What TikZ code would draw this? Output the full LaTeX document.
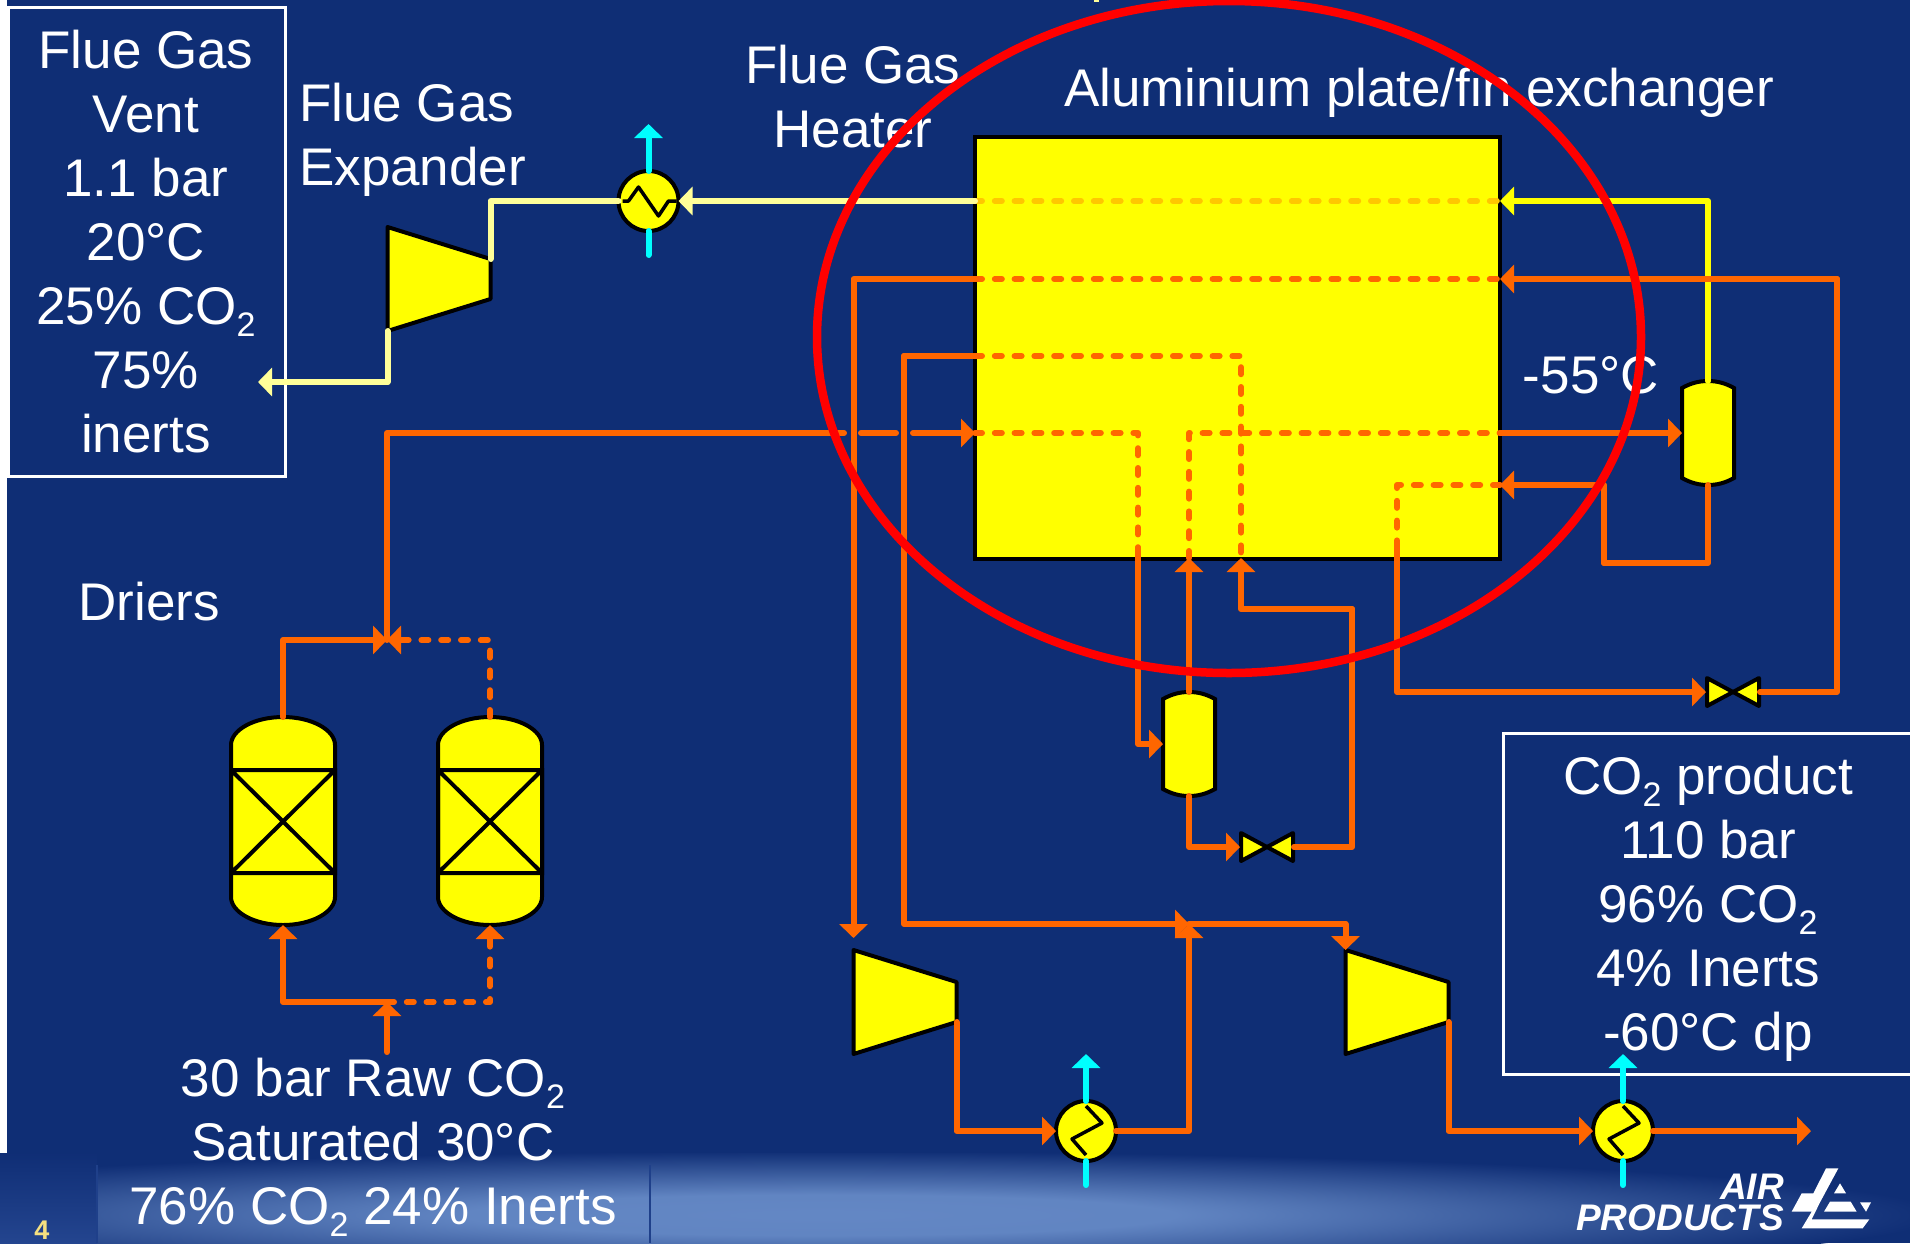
\documentclass[tikz,border=0pt]{standalone}
\usepackage{fontspec}
\setmainfont{Liberation Sans}
\usetikzlibrary{arrows.meta,calc}
\definecolor{slidenavy}{rgb}{0.06, 0.18, 0.46}
\definecolor{footdark}{rgb}{0.14, 0.27, 0.56}
\definecolor{footrule}{rgb}{0.12, 0.25, 0.54}
\definecolor{kityellow}{rgb}{1, 1, 0}
\definecolor{pipeorange}{rgb}{1, 0.40, 0}
\definecolor{ventpale}{rgb}{1, 1, 0.60}
\definecolor{ventgold}{rgb}{1, 0.78, 0}
\definecolor{coldcyan}{rgb}{0, 1, 1}
\definecolor{numberpale}{rgb}{0.96, 0.88, 0.50}
\pgfdeclareradialshading{footglow}{\pgfpointorigin}{rgb(0bp)=(0.39,0.53,0.77); rgb(8bp)=(0.38,0.52,0.76); rgb(25bp)=(0.06,0.18,0.46); rgb(50bp)=(0.06,0.18,0.46)}
\tikzset{
  kit/.style={
    draw=black,
    line width=4pt,
    fill=kityellow
  },
  tag/.style={
    inner sep=0pt,
    outer sep=0pt
  },
  lbl/.style={
    text=white,
    align=center,
    inner sep=0pt,
    font=\fontsize{53}{64}\selectfont
  },
  infobox/.style={
    draw=white,
    line width=3pt,
    inner sep=0pt
  },
  pipe/.style={
    draw=pipeorange,
    line width=6pt,
    line cap=round,
    line join=round
  },
  pipedash/.style={
    pipe,
    dash pattern=on 7pt off 12.8pt
  },
  flow/.style={
    -{Triangle[length=14pt,width=28pt]}
  },
  vent/.style={
    pipe,
    draw=ventpale
  },
  cold/.style={
    pipe,
    draw=coldcyan
  },
  coil/.style={
    draw=black,
    line width=3.5pt,
    line join=round
  },
  logotxt/.style={
    text=white,
    inner sep=0pt,
    font=\fontsize{37}{37}\selectfont\bfseries\itshape
  }
}
\newcommand{\cotwo}{CO\raisebox{-12pt}{\fontsize{34}{34}\selectfont 2}}
\newcommand{\drier}[3]{
  \node[tag, minimum width=104pt, minimum height=208pt] (#1) at (#2,#3) {};
  \begin{scope}[shift={(#1.center)}]
    \draw[kit] (-52,-76) .. controls (-52,-91) and (-29,-104) .. (0,-104) .. controls (29,-104) and (52,-91) .. (52,-76) -- (52,76) .. controls (52,91) and (29,104) .. (0,104) .. controls (-29,104) and (-52,91) .. (-52,76) -- cycle;
    \draw[kit, fill=none] (-52,-51) rectangle (52,52) (-52,-51) -- (52,52) (52,-51) -- (-52,52);
  \end{scope}
}
\newcommand{\drum}[3]{
  \node[tag, minimum width=52pt, minimum height=104pt] (#1) at (#2,#3) {};
  \begin{scope}[shift={(#1.center)}]
    \draw[kit] (-26,-45) .. controls (-17,-50) and (-9,-52) .. (0,-52) .. controls (9,-52) and (17,-50) .. (26,-45) -- (26,45) .. controls (17,50) and (9,52) .. (0,52) .. controls (-9,52) and (-17,50) .. (-26,45) -- cycle;
  \end{scope}
}
\newcommand{\valve}[3]{
  \node[tag, minimum width=54pt, minimum height=28pt] (#1) at (#2,#3) {};
  \begin{scope}[shift={(#1.center)}]
    \draw[kit, line join=round] (-26,-14) -- (0,0) -- (-26,14) -- cycle (26,-14) -- (0,0) -- (26,14) -- cycle;
  \end{scope}
}
\newcommand{\wheel}[3]{
  \coordinate (#1lt) at ($(#2,#3)+(-51,-52)$);
  \coordinate (#1lb) at ($(#2,#3)+(-51,52)$);
  \coordinate (#1rt) at ($(#2,#3)+(52,-20)$);
  \coordinate (#1rb) at ($(#2,#3)+(52,20)$);
  \draw[kit, line join=round] (#1lt) -- (#1rt) -- (#1rb) -- (#1lb) -- cycle;
}

\begin{document}
\begin{tikzpicture}[x=1pt,y=-1pt]
\useasboundingbox (0,0) rectangle (1910,1243);
\fill[white] (0,0) rectangle (1910,1243);
\fill[slidenavy] (7,0) rectangle (1910,1243);
\begin{scope}
\clip (0,1153) rectangle (1910,1243);
\fill[slidenavy] (0,1153) rectangle (1910,1243);
\shade[shading=footglow] (820,1215) ellipse (1120 and 64);
\shade[top color=slidenavy, bottom color=footdark] (0,1153) rectangle (97,1243);
\end{scope}
\draw[footrule, line width=1.5pt] (97,1165) -- (97,1243) (650,1165) -- (650,1243);
\fill[ventpale] (1094,0) rectangle (1099,2);

\node[infobox, minimum width=277pt, minimum height=469pt] (ventbox) at (146.5,241.5) {};
\node[lbl] (venttxt) at (146,242) {Flue Gas\\Vent\\1.1 bar\\20°C\\25\% \cotwo\\75\%\\inerts};
\node[infobox, minimum width=410pt, minimum height=341pt] (productbox) at (1708,903.5) {};
\node[lbl] (producttxt) at (1708,909) {\cotwo{} product\\110 bar\\96\% \cotwo\\4\% Inerts\\-60°C dp};
\node[lbl, align=left, anchor=west] (expanderlbl) at (299,140) {Flue Gas\\Expander};
\node[lbl] (heaterlbl) at (853,97) {Flue Gas\\Heater};
\node[lbl] (exchangerlbl) at (1419,93) {Aluminium plate/fin exchanger};
\node[lbl] (coldlbl) at (1591,375) {-55°C};
\node[lbl] (drierlbl) at (149,602) {Driers};
\node[lbl] (rawlbl) at (373,1147) {30 bar Raw \cotwo\\Saturated 30°C\\76\% \cotwo{} 24\% Inerts};
\node[text=numberpale, inner sep=0pt, font=\fontsize{27}{27}\selectfont\bfseries] (pagenum) at (42,1230) {4};
\node[logotxt, anchor=base east] (logoair) at (1784,1199) {AIR};
\node[logotxt, anchor=base east] (logoproducts) at (1784,1230) {PRODUCTS};
\fill[white, shift={(1780,1160)}, scale=0.3333] (138,25) -- (175,25) -- (120,127) -- (95,178) -- (268,178) -- (248,205) -- (65,205) -- (95,155) -- (35,155) -- (65,100) -- (100,100) -- cycle (180,70) -- (198,100) -- (162,100) -- cycle (150,125) -- (212,125) -- (230,155) -- (132,155) -- cycle (240,127) -- (273,127) -- (258,155) -- cycle;

\node[kit, tag, minimum width=525pt, minimum height=422pt] (hx) at (1237.5,348) {};
\foreach \row/\y in {a/201,b/279,c/356,d/433,e/485} {
  \coordinate (west\row) at (975,\y);
  \coordinate (east\row) at (1500,\y);
}
\coordinate (tipQ) at (1189,558);
\coordinate (tipR) at (1241,558);
\coordinate (portP) at (1138,548);
\coordinate (portS) at (1397,548);
\draw[pipedash, draw=ventgold] (westa) -- (easta);
\draw[pipedash] (westb) -- (eastb);
\draw[pipedash] (westc) -| (tipR);
\draw[pipedash] (westd) -| (portP);
\draw[pipedash] (tipQ) |- (eastd);
\draw[pipedash] (easte) -| (portS);

\drier{drierA}{283}{821}
\drier{drierB}{490}{821}
\drum{drumA}{1189}{744}
\drum{drumB}{1708}{433}
\valve{valveA}{1267}{847}
\valve{valveB}{1733}{692}
\wheel{expander}{438.5}{279}
\wheel{compA}{904.5}{1002}
\wheel{compB}{1396.5}{1002}
\node[kit, tag, circle, minimum size=60pt] (heaterA) at (648.5,201) {};
\node[kit, tag, circle, minimum size=60pt] (coolerA) at (1086,1131) {};
\node[kit, tag, circle, minimum size=60pt] (coolerB) at (1623,1131) {};
\draw[coil, shift={(heaterA.center)}] (-26,0) -- (-20,0) -- (-10,-14) -- (10,15) -- (20,0) -- (28,0);
\foreach \cool in {coolerA,coolerB} {
  \draw[coil, shift={(\cool.center)}] (0,-25) -- (16,-8) -- (-14,8) -- (0,24);
}
\foreach \cool in {heaterA,coolerA,coolerB} {
  \coordinate (\cool up) at ($(\cool.north)+(0,-47)$);
  \coordinate (\cool dn) at ($(\cool.south)+(0,24)$);
  \draw[cold, flow] (\cool.north) -- (\cool up);
  \draw[cold] (\cool.south) -- (\cool dn);
}

\coordinate (ventEnd) at (258,382);
\coordinate (dryTop) at (387,640);
\coordinate (dryBot) at (387,1002);
\coordinate (rawIn) at (387,1052);
\coordinate (feedBend) at (387,433);
\coordinate (gapA) at (844,433);
\coordinate (gapB) at (861,433);
\coordinate (gapC) at (896,433);
\coordinate (gapD) at (913,433);
\coordinate (bendC) at (904,356);
\coordinate (merge) at (1189,924);
\coordinate (riserA) at (1352,609);
\coordinate (riserB) at (1837,279);
\coordinate (retBend) at (1604,563);
\coordinate (prodEnd) at (1811,1131);

\draw[vent] (expanderrt) |- (heaterA.west);
\draw[vent, flow] (westa) -- (heaterA.east);
\draw[vent, flow] (expanderlb) |- (ventEnd);
\draw[pipe, draw=kityellow, flow] (drumB.north) |- (easta);

\draw[pipe, flow] (rawIn) -- (dryBot);
\draw[pipe, flow] (dryBot) -| (drierA.south);
\draw[pipedash, flow] (dryBot) -| (drierB.south);
\draw[pipe, flow] (drierA.north) |- (dryTop);
\draw[pipedash, flow] (drierB.north) |- (dryTop);
\draw[pipe] (dryTop) -- (feedBend) -- (gapA);
\draw[pipe] (gapB) -- (gapC);
\draw[pipe, flow] (gapD) -- (westd);

\draw[pipe, flow] (eastd) -- (drumB.west);
\draw[pipe] (drumB.south) |- (retBend);
\draw[pipe, flow] (retBend) |- (easte);
\draw[pipe, flow] (portS) |- (valveB.west);
\draw[pipe] (valveB.east) -| (riserB);
\draw[pipe, flow] (riserB) -- (eastb);

\draw[pipe, flow] (portP) |- (drumA.west);
\draw[pipe, flow] (drumA.north) -- (tipQ);
\draw[pipe, flow] (drumA.south) |- (valveA.west);
\draw[pipe] (valveA.east) -| (riserA);
\draw[pipe, flow] (riserA) -| (tipR);

\draw[pipe, flow, shorten >=12pt] (westb) -| (compAlt);
\draw[pipe] (westc) -- (bendC);
\draw[pipe, flow] (bendC) |- (merge);
\draw[pipe, flow] (merge) -| (compBlt);
\draw[pipe, flow] (compArb) |- (coolerA.west);
\draw[pipe, flow] (coolerA.east) -| (merge);
\draw[pipe, flow] (compBrb) |- (coolerB.west);
\draw[pipe, flow] (coolerB.east) -- (prodEnd);

\draw[red, line width=8.5pt] (1229,337) ellipse (412 and 336);
\end{tikzpicture}
\end{document}
